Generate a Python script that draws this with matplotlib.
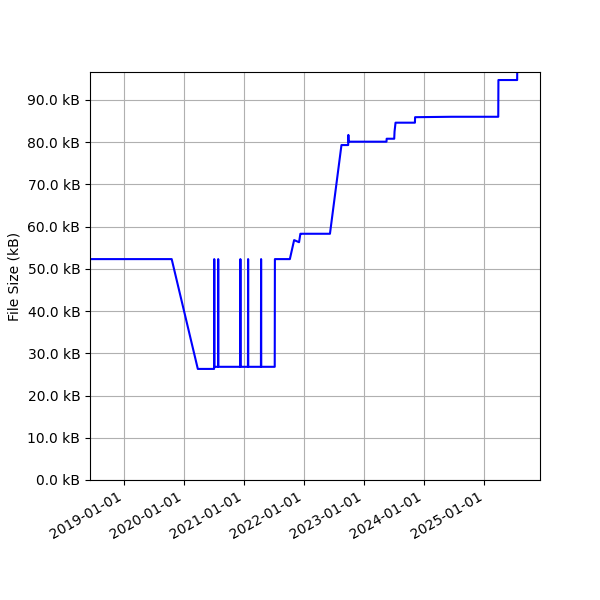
import matplotlib
matplotlib.use("Agg")
import matplotlib.pyplot as plt
import matplotlib.dates as mdates
from matplotlib.ticker import FuncFormatter, MultipleLocator
import pandas as pd

# file size history (kB)
dates = [
    "2018-06-01", "2019-10-18", "2020-03-25", "2020-07-02",
    "2020-07-03", "2020-07-04", "2020-07-26", "2020-07-27", "2020-07-28",
    "2020-12-08", "2020-12-09", "2020-12-10",
    "2021-01-24", "2021-01-25", "2021-01-26",
    "2021-04-13", "2021-04-14", "2021-04-15",
    "2021-07-06", "2021-07-07", "2021-10-06", "2021-11-01", "2021-12-01",
    "2021-12-09", "2021-12-10", "2022-06-07", "2022-08-16", "2022-09-26",
    "2022-09-27", "2022-09-28", "2023-05-17", "2023-05-18", "2023-07-03",
    "2023-07-05", "2023-07-11", "2023-11-06", "2023-11-07", "2024-06-16",
    "2025-03-27", "2025-03-28", "2025-07-20", "2025-07-21",
]
sizes = [
    52.3, 52.3, 26.3, 26.3,
    52.3, 26.8, 26.8, 52.3, 26.8,
    26.8, 52.3, 26.8,
    26.8, 52.3, 26.8,
    26.8, 52.3, 26.8,
    26.8, 52.3, 52.3, 56.8, 56.3,
    58.3, 58.3, 58.3, 79.3, 79.3,
    81.7, 80.1, 80.1, 80.8, 80.8,
    82.5, 84.6, 84.6, 85.9, 86.0,
    86.0, 94.7, 94.7, 100.0,
]

x = pd.to_datetime(dates)

fig, ax = plt.subplots(figsize=(6, 6), dpi=100)
ax.plot(x, sizes, color="blue", lw=1.5)

ax.set_xlim(pd.Timestamp("2018-06-08"), pd.Timestamp("2025-12-06"))
ax.set_ylim(0, 96.6)
ax.yaxis.set_major_locator(MultipleLocator(10))
ax.yaxis.set_major_formatter(FuncFormatter(lambda v, p: "%.1f kB" % v))
ax.xaxis.set_major_locator(mdates.YearLocator())
ax.xaxis.set_major_formatter(mdates.DateFormatter("%Y-%m-%d"))
ax.set_ylabel("File Size (kB)")
ax.grid(True)

fig.autofmt_xdate()
fig.subplots_adjust(left=0.15)
fig.savefig("out.png")
